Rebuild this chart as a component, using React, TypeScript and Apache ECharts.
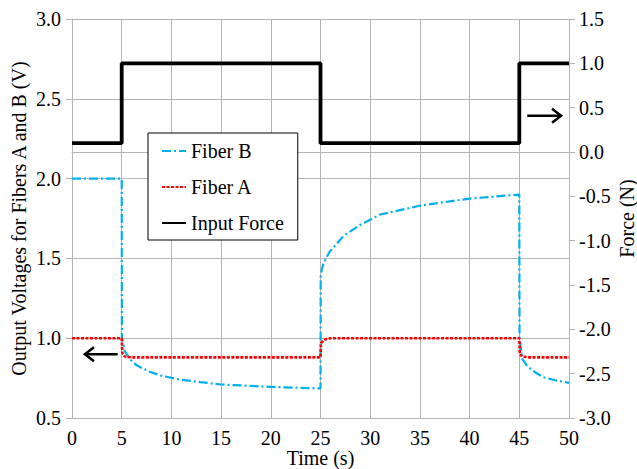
import React, { useEffect, useRef } from "react";
import * as echarts from "echarts";

const fiberBTime = [0, 5, 5.02, 5.3, 5.8, 6.5, 7.8, 9, 10.9, 12.9, 15, 20, 25, 25.02, 25.3, 25.9, 27.3, 29, 31, 35, 40, 45, 45.02, 45.3, 45.8, 46.5, 47.4, 48.5, 50];
const fiberBValues = [2.0, 2.0, 1.0, 0.92, 0.87, 0.83, 0.79, 0.765, 0.74, 0.725, 0.71, 0.695, 0.685, 1.4, 1.47, 1.54, 1.64, 1.71, 1.775, 1.83, 1.875, 1.9, 1.0, 0.87, 0.825, 0.79, 0.756, 0.738, 0.72];

const fiberATime = [0, 5, 5.05, 5.3, 6, 25, 25.05, 25.4, 26, 45, 45.05, 45.3, 46, 50];
const fiberAValues = [1.0, 1.0, 0.91, 0.885, 0.88, 0.88, 0.97, 0.99, 1.0, 1.0, 0.9, 0.885, 0.88, 0.88];

const forceTime = [0, 5, 5, 25, 25, 45, 45, 50];
const forceValues = [0.1, 0.1, 1.0, 1.0, 0.1, 0.1, 1.0, 1.0];

const seriesNames = ["Fiber B", "Fiber A", "Input Force"];
const xTitle = "Time (s)";
const yLeftTitle = "Output Voltages for Fibers A and B (V)";
const yRightTitle = "Force (N)";

// arrow annotations in data space
const rightArrow = { from: [45.8, 0.41], to: [49.2, 0.41] }; // force axis
const leftArrow = { from: [4.6, 0.9], to: [1.3, 0.9] }; // voltage axis

const FONT = "Liberation Serif";
const GRID_COLOR = "#b4b4b4";

function pairs(xs: number[], ys: number[]) {
  return xs.map((x, i) => [x, ys[i]]);
}

export default function App() {
  const ref = useRef<HTMLDivElement>(null);
  useEffect(() => {
    if (!ref.current) return;
    const chart = echarts.init(ref.current, undefined, { renderer: "svg" });
    const axisCommon = {
      axisLine: { show: true, lineStyle: { color: GRID_COLOR, width: 1 } },
      axisTick: { show: true, inside: false, length: 6, lineStyle: { color: GRID_COLOR } },
      axisLabel: { color: "#000", fontFamily: FONT, fontSize: 20 },
      nameTextStyle: { color: "#000", fontFamily: FONT, fontSize: 20 },
      nameMoveOverlap: false,
    };
    chart.setOption({
      animation: false,
      backgroundColor: "#fff",
      textStyle: { fontFamily: FONT },
      grid: { left: 72, right: 68, top: 19, bottom: 51, containLabel: false, outerBoundsMode: "none" },
      legend: {
        data: seriesNames,
        orient: "vertical",
        left: 148,
        top: 133,
        padding: [8, 14, 7, 13],
        itemGap: 16,
        itemWidth: 24,
        itemHeight: 14,
        borderColor: "#000",
        borderWidth: 1,
        backgroundColor: "#fff",
        itemStyle: { opacity: 0 },
        textStyle: { color: "#000", fontFamily: FONT, fontSize: 20 },
      },
      xAxis: {
        type: "value",
        min: 0,
        max: 50,
        interval: 5,
        name: xTitle,
        nameLocation: "middle",
        nameGap: 30,
        ...axisCommon,
        axisLabel: { ...axisCommon.axisLabel, margin: 10 },
        splitLine: { show: true, lineStyle: { color: GRID_COLOR, width: 1 } },
      },
      yAxis: [
        {
          type: "value",
          min: 0.5,
          max: 3.0,
          interval: 0.5,
          position: "left",
          name: yLeftTitle,
          nameLocation: "middle",
          nameRotate: 90,
          nameGap: 43,
          ...axisCommon,
          axisLabel: { ...axisCommon.axisLabel, margin: 11, formatter: (v: number) => v.toFixed(1) },
          splitLine: { show: true, lineStyle: { color: GRID_COLOR, width: 1 } },
        },
        {
          type: "value",
          min: -3.0,
          max: 1.5,
          interval: 0.5,
          position: "right",
          name: yRightTitle,
          nameLocation: "middle",
          nameRotate: 90,
          nameGap: 48,
          ...axisCommon,
          axisLabel: { ...axisCommon.axisLabel, margin: 10, formatter: (v: number) => v.toFixed(1) },
          splitLine: { show: false },
        },
      ],
      series: [
        {
          name: seriesNames[0],
          type: "line",
          yAxisIndex: 0,
          symbol: "none",
          showSymbol: false,
          data: pairs(fiberBTime, fiberBValues),
          lineStyle: { color: "#00B0F0", width: 2.2, type: [9, 3, 2, 3] },
          itemStyle: { color: "#00B0F0" },
          z: 3,
        },
        {
          name: seriesNames[1],
          type: "line",
          yAxisIndex: 0,
          symbol: "none",
          showSymbol: false,
          data: pairs(fiberATime, fiberAValues),
          lineStyle: { color: "#FF0000", width: 2.6, type: [3, 1.5] },
          itemStyle: { color: "#FF0000" },
          z: 4,
        },
        {
          name: seriesNames[2],
          type: "line",
          yAxisIndex: 1,
          symbol: "none",
          showSymbol: false,
          data: pairs(forceTime, forceValues),
          lineStyle: { color: "#000", width: 3.8 },
          itemStyle: { color: "#000" },
          z: 5,
        },
      ],
    });

    const mkArrow = (from: number[], to: number[], yAxisIndex: number) => {
      const p1 = chart.convertToPixel({ xAxisIndex: 0, yAxisIndex }, from) as number[];
      const p2 = chart.convertToPixel({ xAxisIndex: 0, yAxisIndex }, to) as number[];
      const dir = Math.sign(p2[0] - p1[0]);
      const head = 9;
      return [
        { type: "line", shape: { x1: p1[0], y1: p1[1], x2: p2[0], y2: p2[1] }, style: { stroke: "#000", lineWidth: 2.5 }, z: 10 },
        {
          type: "polyline",
          shape: { points: [[p2[0] - dir * head, p2[1] - 7], [p2[0], p2[1]], [p2[0] - dir * head, p2[1] + 7]] },
          style: { stroke: "#000", lineWidth: 2.5, fill: null },
          z: 10,
        },
      ];
    };
    chart.setOption({
      graphic: [
        ...mkArrow(rightArrow.from, rightArrow.to, 1),
        ...mkArrow(leftArrow.from, leftArrow.to, 0),
      ],
    });
    return () => chart.dispose();
  }, []);
  return <div ref={ref} style={{ position: "fixed", left: 0, top: 0, width: 637, height: 469 }} />;
}
